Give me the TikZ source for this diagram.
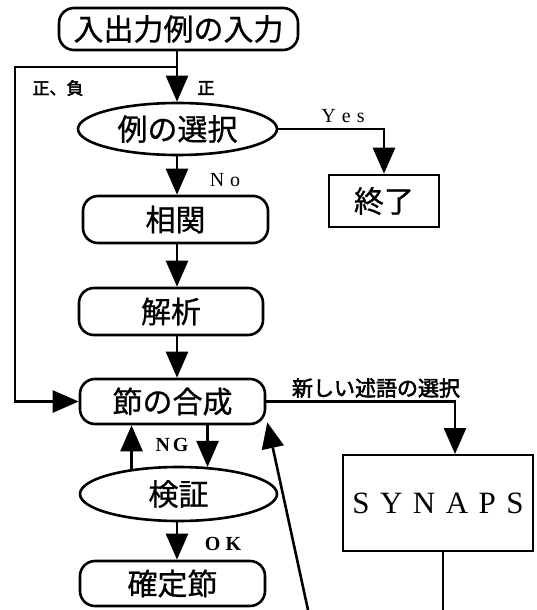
\documentclass[tikz,border=0pt]{standalone}
\usepackage{fontspec}
\setmainfont{Liberation Serif}
\newfontfamily\jp[FakeBold=0.8]{Noto Sans CJK JP}
\newfontfamily\jpb[FakeBold=2.5]{Noto Sans CJK JP}
\usetikzlibrary{arrows.meta,shapes.geometric,calc}
\begin{document}
\begin{tikzpicture}[x=1pt,y=-1pt,
  ln/.style={line width=2.6pt},
  arr/.style={line width=2.6pt,-{Triangle[length=26pt,width=22pt]}},
  rbox/.style={draw,line width=2.6pt,rounded corners=15pt,inner sep=0pt,font=\jp\fontsize{30}{30}\selectfont},
  ebox/.style={draw,ellipse,line width=2.6pt,inner sep=0pt,font=\jp\fontsize{30}{30}\selectfont},
  sbox/.style={draw,line width=2.6pt,inner sep=0pt,font=\jp\fontsize{30}{30}\selectfont},
  jlab/.style={inner sep=0pt,font=\jpb\fontsize{17}{17}\selectfont},
  elab/.style={inner sep=0pt,font=\fontsize{20}{20}\selectfont},
  eblab/.style={inner sep=0pt,font=\bfseries\fontsize{20}{20}\selectfont}
]
\useasboundingbox (0,0) rectangle (536,610);

% nodes
\node[rbox,minimum width=239pt,minimum height=42pt] (in) at (178.5,29) {入出力例の入力};
\node[ebox,minimum width=199pt,minimum height=52pt] (sel) at (177.5,129) {例の選択};
\node[sbox,minimum width=110pt,minimum height=52pt] (end) at (384,201) {終了};
\node[rbox,minimum width=185pt,minimum height=47pt] (corr) at (175.5,219.5) {相関};
\node[rbox,minimum width=184pt,minimum height=47pt] (ana) at (171,311.5) {解析};
\node[rbox,minimum width=185pt,minimum height=45pt] (syn) at (172.5,401.5) {節の合成};
\node[ebox,minimum width=197pt,minimum height=54pt] (ver) at (178.5,494) {検証};
\node[rbox,minimum width=185pt,minimum height=45pt] (fix) at (172.5,583.5) {確定節};
\node[sbox,line width=2pt,minimum width=190pt,minimum height=96pt,font=\fontsize{31}{31}\selectfont] (syp) at (438,503)
  {S\kern10.5pt Y\kern10.5pt N\kern10.5pt A\kern10.5pt P\kern10.5pt S};

% labels
\node[jlab] (lpn) at (58,88) {正、負};
\node[jlab] (lp) at (206,88) {正};
\node[elab] (lyes) at (343,116) {Y\kern6pt e\kern6pt s};
\node[elab] (lno) at (225,180) {N\kern6pt o};
\node[jlab,font=\jpb\fontsize{21}{21}\selectfont] (lnew) at (376,388) {新しい述語の選択};
\node[eblab] (lng) at (172,445) {N\kern3pt G};
\node[eblab] (lok) at (223,544) {O\kern5pt K};

% helper coordinates
\coordinate (col) at (177,0);
\coordinate (j1) at (177,67);
\coordinate (L) at (15,67);
\coordinate (b1) at (443,610);
\coordinate (b2) at (308,610);

% connectors
\draw[arr] (in.south -| col) -- (sel.north -| col);
\draw[arr] (j1) -- (L) |- (syn.west);
\draw[arr] (sel.east) -| (end.north);
\draw[arr] (sel.south -| col) -- (corr.north -| col);
\draw[arr] (corr.south -| col) -- (ana.north -| col);
\draw[arr] (ana.south -| col) -- (syn.north -| col);
\draw[arr] (syn.east) -| ([xshift=17pt]syp.north);
\draw[arr] (ver.152) -- (ver.152 |- syn.south);
\draw[arr] (syn.south -| ver.43) -- (ver.43);
\draw[arr] (ver.south -| col) -- (fix.north -| col);
\draw[ln] ([xshift=5pt]syp.south) -- (b1);
\draw[arr] (b2) -- ([shift={(1pt,3pt)}]syn.south east);
\end{tikzpicture}
\end{document}
